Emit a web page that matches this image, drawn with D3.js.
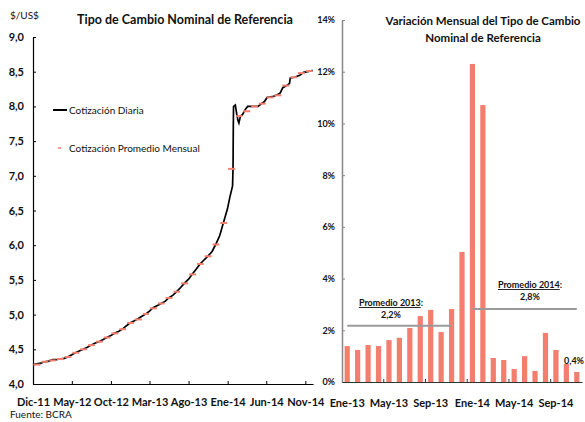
<!DOCTYPE html>
<html>
<head>
<meta charset="utf-8">
<script src="https://cdn.jsdelivr.net/npm/d3@7"></script>
<style>
  body { margin: 0; background: #fff; }
  svg text { font-family: Lato, "Open Sans", sans-serif; fill: #111; }
</style>
</head>
<body>
<div id="chart"></div>
<script>
// daily quotation ($/US$)
var dailyDates = ["2011-12-01","2011-12-15","2012-01-01","2012-01-15","2012-02-01","2012-02-15","2012-03-01","2012-03-15",
  "2012-04-01","2012-04-15","2012-05-01","2012-05-15","2012-06-01","2012-06-15","2012-07-01","2012-07-15",
  "2012-08-01","2012-08-15","2012-09-01","2012-09-15","2012-10-01","2012-10-15","2012-11-01","2012-11-15",
  "2012-12-01","2012-12-15","2013-01-01","2013-01-15","2013-02-01","2013-02-15","2013-03-01","2013-03-15",
  "2013-04-01","2013-04-15","2013-05-01","2013-05-15","2013-06-01","2013-06-15","2013-07-01","2013-07-15",
  "2013-08-01","2013-08-15","2013-09-01","2013-09-15","2013-10-01","2013-10-15","2013-11-01","2013-11-15",
  "2013-12-01","2013-12-15","2013-12-31","2014-01-10","2014-01-20","2014-01-22","2014-01-23","2014-01-24",
  "2014-01-31","2014-02-05","2014-02-10","2014-02-14","2014-02-20","2014-02-28","2014-03-10","2014-03-20",
  "2014-04-10","2014-04-30","2014-05-10","2014-05-25","2014-06-05","2014-06-25","2014-07-10","2014-07-25",
  "2014-08-05","2014-08-20","2014-08-31","2014-09-03","2014-09-20","2014-10-10","2014-10-25","2014-11-10",
  "2014-11-30"];
var dailyValues = [4.28,4.29,4.30,4.32,4.33,4.35,4.35,4.36,
  4.37,4.39,4.42,4.45,4.48,4.50,4.53,4.56,
  4.59,4.61,4.64,4.67,4.70,4.73,4.76,4.79,
  4.84,4.88,4.91,4.94,4.98,5.01,5.05,5.10,
  5.13,5.16,5.19,5.24,5.28,5.33,5.39,5.45,
  5.51,5.58,5.66,5.73,5.79,5.84,5.91,6.01,
  6.14,6.32,6.52,6.70,6.85,7.10,7.70,8.00,
  8.02,7.90,7.80,7.76,7.86,7.88,7.95,8.00,
  8.00,8.00,8.03,8.07,8.13,8.14,8.16,8.19,
  8.27,8.30,8.33,8.41,8.42,8.45,8.49,8.50,
  8.52];

// monthly average quotation
var monthStarts = ["2011-12","2012-01","2012-02","2012-03","2012-04","2012-05","2012-06","2012-07","2012-08","2012-09",
  "2012-10","2012-11","2012-12","2013-01","2013-02","2013-03","2013-04","2013-05","2013-06","2013-07","2013-08",
  "2013-09","2013-10","2013-11","2013-12","2014-01","2014-02","2014-03","2014-04","2014-05","2014-06","2014-07",
  "2014-08","2014-09","2014-10","2014-11"];
var monthlyAvg = [4.28,4.32,4.34,4.36,4.39,4.45,4.50,4.56,4.61,4.67,
  4.73,4.79,4.88,4.93,5.01,5.09,5.16,5.24,5.33,5.45,5.58,
  5.73,5.84,6.01,6.32,7.10,7.86,7.93,8.00,8.04,8.13,8.16,
  8.30,8.42,8.48,8.51];

var leftTickLabels = ["Dic-11","May-12","Oct-12","Mar-13","Ago-13","Ene-14","Jun-14","Nov-14"];

// monthly variation (%)
var varMonths = ["Ene-13","Feb-13","Mar-13","Abr-13","May-13","Jun-13","Jul-13","Ago-13","Sep-13","Oct-13","Nov-13","Dic-13",
  "Ene-14","Feb-14","Mar-14","Abr-14","May-14","Jun-14","Jul-14","Ago-14","Sep-14","Oct-14","Nov-14"];
var varValues = [1.39,1.24,1.43,1.39,1.62,1.71,2.09,2.55,2.79,1.93,2.82,5.03,
  12.30,10.71,0.93,0.85,0.50,1.00,0.43,1.90,1.24,0.70,0.39];
var rightTickLabels = ["Ene-13","May-13","Sep-13","Ene-14","May-14","Sep-14"];

var avg2013 = 2.18, avg2014 = 2.82;

var W = 585, H = 422;
var salmon = "#f47e6e";
var comma = d3.formatLocale({decimal: ",", thousands: ".", grouping: [3], currency: ["$", ""]});
var parseDay = d3.timeParse("%Y-%m-%d"), parseMonth = d3.timeParse("%Y-%m");

var svg = d3.select("#chart").append("svg").attr("width", W).attr("height", H);

// ---------- left chart ----------
var x1 = d3.scaleTime().domain([new Date(2011, 11, 1), new Date(2014, 11, 1)]).range([33, 313]);
var y1 = d3.scaleLinear().domain([4, 9]).range([384, 37]);

var yAxis1 = d3.axisLeft(y1).tickValues(d3.range(4, 9.01, 0.5)).tickFormat(comma.format(".1f"))
  .tickSize(-3).tickSizeOuter(0).tickPadding(9);
var gy1 = svg.append("g").attr("transform", "translate(33,0)").call(yAxis1);
gy1.selectAll("text").attr("font-size", 11).attr("font-weight", "bold");

var leftTicks = leftTickLabels.map((d, i) => d3.timeMonth.offset(new Date(2011, 11, 1), i * 5));
var xAxis1 = d3.axisBottom(x1).tickValues(leftTicks).tickFormat((d, i) => leftTickLabels[i])
  .tickSize(-3).tickSizeOuter(0).tickPadding(14);
var gx1 = svg.append("g").attr("transform", "translate(0,384)").call(xAxis1);
gx1.selectAll("text").attr("font-size", 11).attr("font-weight", "bold");
[gy1, gx1].forEach(g => { g.select(".domain").attr("stroke", "#000").attr("stroke-width", 1.2); g.selectAll(".tick line").attr("stroke", "#000"); });

var daily = dailyDates.map((d, i) => ({date: parseDay(d), v: dailyValues[i]}));
svg.append("path").datum(daily)
  .attr("fill", "none").attr("stroke", "#000").attr("stroke-width", 1.7)
  .attr("d", d3.line().x(d => x1(d.date)).y(d => y1(d.v)));

svg.append("g").selectAll("line").data(monthStarts).join("line")
  .attr("x1", d => x1(parseMonth(d)) + 0.5)
  .attr("x2", d => x1(d3.timeMonth.offset(parseMonth(d), 1)) - 0.5)
  .attr("y1", (d, i) => y1(monthlyAvg[i])).attr("y2", (d, i) => y1(monthlyAvg[i]))
  .attr("stroke", salmon).attr("stroke-width", 2);

svg.append("text").attr("x", 10).attr("y", 19).attr("font-size", 10).text("$/US$");
svg.append("text").attr("x", 185).attr("y", 24).attr("text-anchor", "middle")
  .attr("font-size", 12.5).attr("font-weight", "bold").text("Tipo de Cambio Nominal de Referencia");

// legend
svg.append("line").attr("x1", 53).attr("x2", 67).attr("y1", 110).attr("y2", 110).attr("stroke", "#000").attr("stroke-width", 2);
svg.append("text").attr("x", 69).attr("y", 114).attr("font-size", 10).text("Cotización Diaria");
svg.append("line").attr("x1", 58).attr("x2", 61).attr("y1", 148).attr("y2", 148).attr("stroke", salmon).attr("stroke-width", 1.5);
svg.append("text").attr("x", 69).attr("y", 152).attr("font-size", 10).text("Cotización Promedio Mensual");

svg.append("text").attr("x", 10).attr("y", 418).attr("font-size", 10).text("Fuente: BCRA");

// ---------- right chart ----------
var x2 = d3.scaleBand().domain(varMonths).range([342, 582]).paddingInner(0.5).paddingOuter(0.25);
var y2 = d3.scaleLinear().domain([0, 14]).range([382, 20]);

svg.append("g").selectAll("rect").data(varMonths).join("rect")
  .attr("x", d => x2(d)).attr("width", x2.bandwidth())
  .attr("y", (d, i) => y2(varValues[i])).attr("height", (d, i) => y2(0) - y2(varValues[i]))
  .attr("fill", salmon);

var yAxis2 = d3.axisLeft(y2).tickValues(d3.range(0, 14.01, 2)).tickFormat(d => d + "%")
  .tickSize(-3).tickSizeOuter(0).tickPadding(7);
var gy2 = svg.append("g").attr("transform", "translate(342,0)").call(yAxis2);
gy2.selectAll("text").attr("font-size", 9).attr("font-weight", "bold");
gy2.select(".domain").attr("stroke", "#888").attr("stroke-width", 1.5);
gy2.selectAll(".tick line").attr("stroke", "#888");

var xAxis2 = d3.axisBottom(x2).tickValues(rightTickLabels).tickSize(0).tickSizeOuter(0).tickPadding(17);
var gx2 = svg.append("g").attr("transform", "translate(0,382)").call(xAxis2);
gx2.selectAll("text").attr("font-size", 11).attr("font-weight", "bold");
gx2.select(".domain").attr("stroke", "#333").attr("stroke-width", 1.2);

// tick marks between bands every four months
var step = x2.step();
svg.append("g").selectAll("line").data([4, 8, 12, 16, 20]).join("line")
  .attr("x1", i => x2(varMonths[i]) - step * 0.25).attr("x2", i => x2(varMonths[i]) - step * 0.25)
  .attr("y1", 382).attr("y2", 379).attr("stroke", "#333");

// average lines
var avgLines = [
  {from: "Ene-13", to: "Nov-13", v: avg2013, title: "Promedio 2013", label: "2,2%", cx: 391, ty: 306},
  {from: "Ene-14", to: "Nov-14", v: avg2014, title: "Promedio 2014", label: "2,8%", cx: 530, ty: 288}
];
avgLines.forEach(a => {
  var half = x2.bandwidth() / 2;
  svg.append("line").attr("x1", x2(a.from) + half).attr("x2", x2(a.to) + half)
    .attr("y1", y2(a.v)).attr("y2", y2(a.v)).attr("stroke", "#9a9a9a").attr("stroke-width", 2);
  var t = svg.append("text").attr("x", a.cx).attr("y", a.ty).attr("text-anchor", "middle")
    .attr("font-size", 9).attr("font-weight", "bold");
  t.append("tspan").attr("text-decoration", "underline").text(a.title);
  t.append("tspan").text(":");
  svg.append("text").attr("x", a.cx).attr("y", a.ty + 12).attr("text-anchor", "middle")
    .attr("font-size", 9).attr("font-weight", "bold").text(a.label);
});

var last = varMonths.length - 1;
svg.append("text").attr("x", 584).attr("y", y2(varValues[last]) - 8)
  .attr("text-anchor", "end").attr("font-size", 9).attr("font-weight", "bold").text("0,4%");

svg.append("text").attr("x", 483).attr("y", 25).attr("text-anchor", "middle")
  .attr("font-size", 11.5).attr("font-weight", "bold").text("Variación Mensual del Tipo de Cambio");
svg.append("text").attr("x", 483).attr("y", 42).attr("text-anchor", "middle")
  .attr("font-size", 11.5).attr("font-weight", "bold").text("Nominal de Referencia");
</script>
</body>
</html>
